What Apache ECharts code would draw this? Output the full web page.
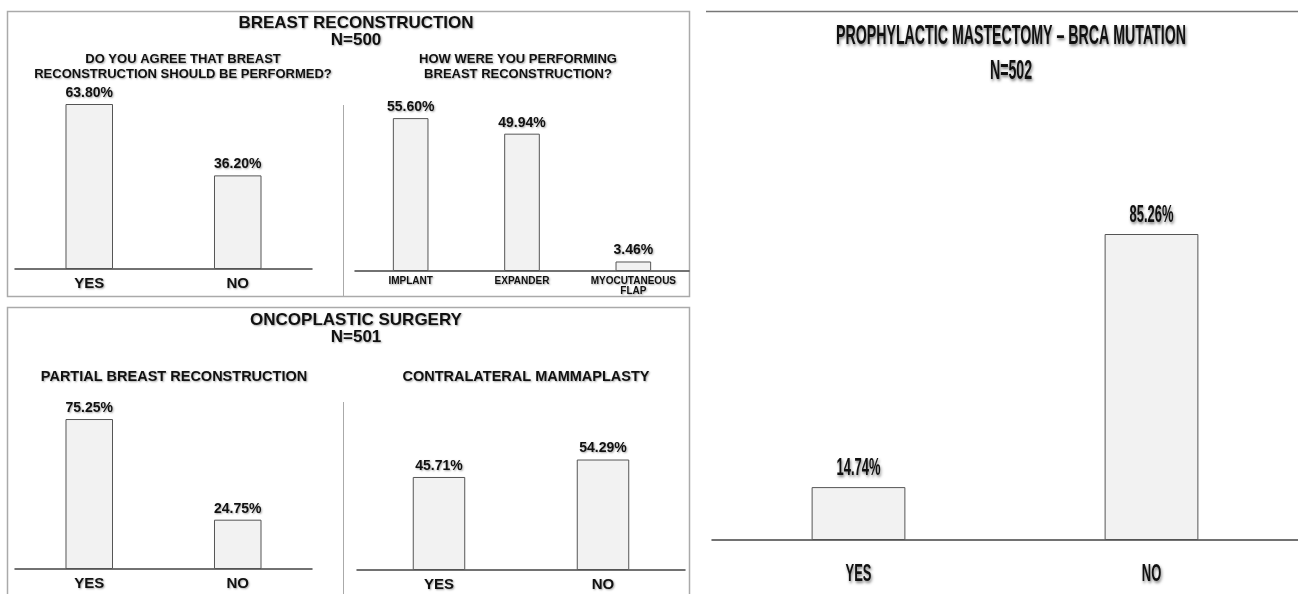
<!DOCTYPE html>
<html><head><meta charset="utf-8">
<script src="https://cdn.jsdelivr.net/npm/echarts@6/dist/echarts.min.js"></script>
<style>html,body{margin:0;padding:0;background:#fff}#c{width:1298px;height:594px}</style>
</head><body><div id="c"></div>
<script>
// Data
const agreeCats = ['YES', 'NO'];
const agreeVals = [63.80, 36.20];
const methodCats = ['IMPLANT', 'EXPANDER', 'MYOCUTANEOUS\nFLAP'];
const methodVals = [55.60, 49.94, 3.46];
const partialCats = ['YES', 'NO'];
const partialVals = [75.25, 24.75];
const contraCats = ['YES', 'NO'];
const contraVals = [45.71, 54.29];
const brcaCats = ['YES', 'NO'];
const brcaVals = [14.74, 85.26];

const F = '"Liberation Sans", Arial, sans-serif';
const mctx = document.createElement('canvas').getContext('2d');
function tw(text, font) { mctx.font = font; return mctx.measureText(text).width; }

// condensed-text scales for the right-hand panel
const T5FONT = 'bold 28px "Liberation Sans", Arial, sans-serif';
const T5TEXT = 'PROPHYLACTIC MASTECTOMY – BRCA MUTATION';
const t5scale = 350 / tw(T5TEXT, T5FONT);
const L5FONT = 'bold 23px "Liberation Sans", Arial, sans-serif';
const l5scale = 44 / tw('85.26%', L5FONT);

const shadow = {textShadowColor: 'rgba(0,0,0,0.35)', textShadowBlur: 2, textShadowOffsetX: 1, textShadowOffsetY: 1};
const bigShadow = {textShadowColor: 'rgba(0,0,0,0.5)', textShadowBlur: 3, textShadowOffsetX: 1, textShadowOffsetY: 2};

// grid specs: left, width, baseY, pxPerUnit, max
const grids = [
  {left: 15, width: 297, base: 269, ppu: 2.586, max: 70},
  {left: 355, width: 334, base: 271, ppu: 2.75, max: 60},
  {left: 15, width: 297, base: 569, ppu: 1.993, max: 80},
  {left: 357, width: 328, base: 570, ppu: 2.035, max: 60},
  {left: 712, width: 586, base: 540, ppu: 3.589, max: 90}
];
const cats = [agreeCats, methodCats, partialCats, contraCats, brcaCats];
const vals = [agreeVals, methodVals, partialVals, contraVals, brcaVals];
const catStyle = [
  {fontSize: 15, margin: 7},
  {fontSize: 10, margin: 5, lineHeight: 10},
  {fontSize: 15, margin: 7},
  {fontSize: 15, margin: 7},
  {fontSize: 15, margin: 7}
];

function condensedText(x, y, text, font, scale, valign) {
  return {
    type: 'text', x: x, y: y, scaleX: scale,
    style: Object.assign({text: text, font: font, fill: '#111', align: 'center', verticalAlign: valign}, bigShadow)
  };
}

const series = grids.map((g, i) => ({
  type: 'bar', xAxisIndex: i, yAxisIndex: i, data: vals[i], barWidth: '32%',
  itemStyle: {color: '#f2f2f2', borderColor: '#555', borderWidth: 1},
  label: Object.assign({show: i !== 4, position: 'top', color: '#111', fontWeight: 'bold', fontFamily: F,
    fontSize: 14, distance: 4, formatter: p => p.value.toFixed(2) + '%'}, shadow)
}));
// condensed value labels and category labels for the BRCA panel
series.push({
  type: 'custom', xAxisIndex: 4, yAxisIndex: 4, silent: true, z: 5,
  data: brcaVals.map((v, i) => [i, v]),
  renderItem: function (params, api) {
    const top = api.coord([api.value(0), api.value(1)]);
    const base = api.coord([api.value(0), 0]);
    const idx = params.dataIndex;
    return {
      type: 'group',
      children: [
        condensedText(top[0], top[1] - 7, brcaVals[idx].toFixed(2) + '%', L5FONT, l5scale, 'bottom'),
        condensedText(base[0], base[1] + 35, brcaCats[idx], L5FONT, l5scale, 'middle')
      ]
    };
  }
});

const option = {
  backgroundColor: '#fff',
  animation: false,
  title: [
    {text: 'BREAST RECONSTRUCTION\nN=500', left: 351, top: 10, textAlign: 'center',
     textStyle: Object.assign({fontSize: 17, fontWeight: 'bold', fontFamily: F, color: '#111', lineHeight: 17, align: 'center'}, shadow)},
    {text: 'DO YOU AGREE THAT BREAST\nRECONSTRUCTION SHOULD BE PERFORMED?', left: 178, top: 47, textAlign: 'center',
     textStyle: Object.assign({fontSize: 13, fontWeight: 'bold', fontFamily: F, color: '#111', lineHeight: 15, align: 'center'}, shadow)},
    {text: 'HOW WERE YOU PERFORMING\nBREAST RECONSTRUCTION?', left: 513, top: 47, textAlign: 'center',
     textStyle: Object.assign({fontSize: 13, fontWeight: 'bold', fontFamily: F, color: '#111', lineHeight: 15, align: 'center'}, shadow)},
    {text: 'ONCOPLASTIC SURGERY\nN=501', left: 351, top: 307, textAlign: 'center',
     textStyle: Object.assign({fontSize: 17, fontWeight: 'bold', fontFamily: F, color: '#111', lineHeight: 17, align: 'center'}, shadow)},
    {text: 'PARTIAL BREAST RECONSTRUCTION', left: 169, top: 364, textAlign: 'center',
     textStyle: Object.assign({fontSize: 14.5, fontWeight: 'bold', fontFamily: F, color: '#111'}, shadow)},
    {text: 'CONTRALATERAL MAMMAPLASTY', left: 521, top: 364, textAlign: 'center',
     textStyle: Object.assign({fontSize: 14.5, fontWeight: 'bold', fontFamily: F, color: '#111'}, shadow)}
  ],
  graphic: [
    {type: 'rect', shape: {x: 7.5, y: 11.5, width: 682, height: 285}, style: {fill: 'none', stroke: '#aaa', lineWidth: 1.5}, z: 0},
    {type: 'rect', shape: {x: 7.5, y: 307.5, width: 682, height: 300}, style: {fill: 'none', stroke: '#aaa', lineWidth: 1.5}, z: 0},
    {type: 'line', shape: {x1: 343.5, y1: 105, x2: 343.5, y2: 296}, style: {stroke: '#aaa', lineWidth: 1}},
    {type: 'line', shape: {x1: 343.5, y1: 402, x2: 343.5, y2: 594}, style: {stroke: '#aaa', lineWidth: 1}},
    {type: 'line', shape: {x1: 706, y1: 11.5, x2: 1298, y2: 11.5}, style: {stroke: '#777', lineWidth: 1.5}},
    condensedText(1011, 36, T5TEXT, T5FONT, t5scale, 'middle'),
    condensedText(1011, 71, 'N=502', T5FONT, t5scale, 'middle')
  ],
  grid: grids.map(g => ({left: g.left, width: g.width, top: g.base - g.max * g.ppu, height: g.max * g.ppu, containLabel: false})),
  xAxis: grids.map((g, i) => ({
    type: 'category', gridIndex: i, data: cats[i],
    axisLine: {lineStyle: {color: '#444', width: 1.5}},
    axisTick: {show: false},
    axisLabel: Object.assign({show: i !== 4, color: '#111', fontWeight: 'bold', fontFamily: F, interval: 0}, catStyle[i], shadow)
  })),
  yAxis: grids.map((g, i) => ({
    type: 'value', gridIndex: i, min: 0, max: g.max, show: false, splitLine: {show: false}
  })),
  series: series
};
const chart = echarts.init(document.getElementById('c'), null, {renderer: 'canvas'});
chart.setOption(option);
</script></body></html>
